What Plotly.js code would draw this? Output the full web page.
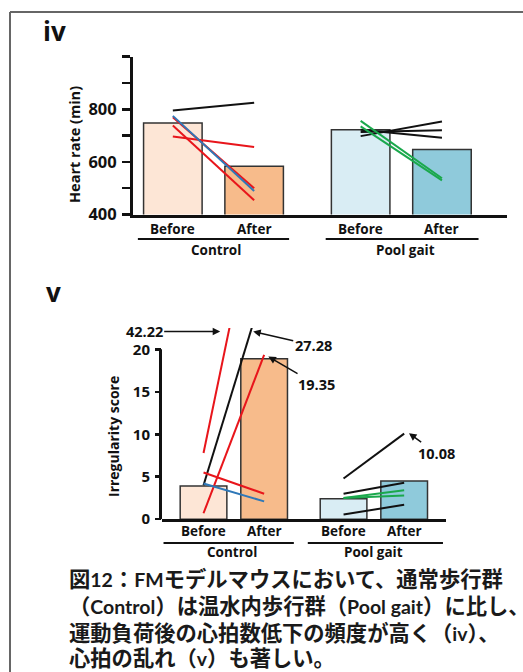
<!DOCTYPE html>
<html>
<head>
<meta charset="utf-8">
<script src="https://cdn.plot.ly/plotly-3.0.1.min.js"></script>
<style>html,body{margin:0;padding:0;background:#fff;}#chart{width:523px;height:672px;}</style>
</head>
<body>
<div id="chart"></div>
<script>
// ---------------- data ----------------
const conditions = ['Before', 'After'];
const groups = ['Control', 'Pool gait'];

// (iv) heart rate
const hrBarControl = [748, 583];
const hrBarPool = [722, 647];
const hrControlBefore = [795, 738, 697, 770, 775];
const hrControlAfter  = [825, 454, 657, 500, 489];
const hrPoolBefore = [698, 714, 722, 756, 735];
const hrPoolAfter  = [754, 720, 692, 538, 530];
const hrTicks = [400, 500, 600, 700, 800, 900, 1000];
const hrTickLabels = ['400', '', '600', '', '800', '', ''];

// (v) irregularity score
const irBarControl = [3.9, 18.9];
const irBarPool = [2.4, 4.5];
const irControlBefore = [7.8, 4.0, 0.7, 5.5, 4.2];
const irControlAfter  = [42.22, 27.28, 19.35, 3.0, 2.1];
const irPoolBefore = [4.8, 3.0, 2.5, 2.5, 0.55];
const irPoolAfter  = [10.08, 4.3, 3.4, 2.8, 1.7];
const irTicks = [0, 5, 10, 15, 20];

const captionLines = [
  '図12：FMモデルマウスにおいて、通常歩行群',
  '（Control）は温水内歩行群（Pool gait）に比し、',
  '運動負荷後の心拍数低下の頻度が高く（iv）、',
  '心拍の乱れ（v）も著しい。'
];

// ---------------- styles ----------------
const W = 523, H = 672;
const px = v => v / W;
const py = v => 1 - v / H;
const BLACK = '#111111', RED = '#e8151b', BLUE = '#2f78b8', GREEN = '#1aa84c';
const hrControlColors = [BLACK, RED, RED, RED, BLUE];
const hrPoolColors = [BLACK, BLACK, BLACK, GREEN, GREEN];
const irControlColors = [RED, BLACK, RED, RED, BLUE];
const irPoolColors = [BLACK, BLACK, GREEN, GREEN, BLACK];
const barColors = ['#fde6d6', '#f7bb8b', '#d9edf4', '#8fcadb'];
const groupStart = [0, 2.31];
const pos = [groupStart[0], groupStart[0] + 1, groupStart[1], groupStart[1] + 1];
const FONT = 'Open Sans, Arial, sans-serif';

const traces = [];
// bars
traces.push({
  type: 'bar', x: pos, y: hrBarControl.concat(hrBarPool), width: 0.72,
  marker: {color: barColors, line: {color: '#333', width: 1.5}},
  xaxis: 'x', yaxis: 'y', showlegend: false, hoverinfo: 'skip'
});
traces.push({
  type: 'bar', x: pos, y: irBarControl.concat(irBarPool), width: 0.77,
  marker: {color: barColors, line: {color: '#333', width: 1.5}},
  xaxis: 'x2', yaxis: 'y2', showlegend: false, hoverinfo: 'skip'
});
function addLines(before, after, colors, g, xa, ya) {
  for (let i = 0; i < before.length; i++) {
    traces.push({
      type: 'scatter', mode: 'lines',
      x: [pos[g * 2], pos[g * 2 + 1]], y: [before[i], after[i]],
      line: {color: colors[i], width: 2},
      xaxis: xa, yaxis: ya, showlegend: false, hoverinfo: 'skip'
    });
  }
}
addLines(hrControlBefore, hrControlAfter, hrControlColors, 0, 'x', 'y');
addLines(hrPoolBefore, hrPoolAfter, hrPoolColors, 1, 'x', 'y');
addLines(irControlBefore, irControlAfter, irControlColors, 0, 'x2', 'y2');
addLines(irPoolBefore, irPoolAfter, irPoolColors, 1, 'x2', 'y2');

// ---------------- annotations & shapes ----------------
const ann = [];
const shapes = [];
const bold = (size, color) => ({family: FONT, size: size, color: color || '#111', weight: 'bold'});

// frame
shapes.push({type: 'line', xref: 'paper', yref: 'paper', x0: px(10), x1: px(10), y0: py(12), y1: py(700), line: {color: '#666', width: 2}});
shapes.push({type: 'line', xref: 'paper', yref: 'paper', x0: px(10), x1: px(540), y0: py(12), y1: py(12), line: {color: '#666', width: 2}});

// panel labels
ann.push({text: 'iv', xref: 'paper', yref: 'paper', x: px(41), y: py(31), xanchor: 'left', yanchor: 'middle', showarrow: false, font: bold(26)});
ann.push({text: 'v', xref: 'paper', yref: 'paper', x: px(44), y: py(292), xanchor: 'left', yanchor: 'middle', showarrow: false, font: bold(26)});

// axis titles
ann.push({text: 'Heart rate (min)', xref: 'paper', yref: 'paper', x: px(74), y: py(145), xanchor: 'center', yanchor: 'middle', textangle: -90, showarrow: false, font: bold(14.5)});
ann.push({text: 'Irregularity score', xref: 'paper', yref: 'paper', x: px(113), y: py(437), xanchor: 'center', yanchor: 'middle', textangle: -90, showarrow: false, font: bold(14)});

// category labels and group underlines
function catLabels(xa, yCond, yLine, yGroup, ext) {
  for (let g = 0; g < 2; g++) {
    for (let c = 0; c < 2; c++) {
      ann.push({text: conditions[c], xref: xa, yref: 'paper', x: pos[g * 2 + c], y: py(yCond), xanchor: 'center', yanchor: 'middle', showarrow: false, font: bold(13.5)});
    }
    const center = groupStart[g] + 0.5;
    shapes.push({type: 'line', xref: xa, yref: 'paper', x0: center + ext[g][0], x1: center + ext[g][1], y0: py(yLine), y1: py(yLine), line: {color: '#111', width: 2.2}});
    ann.push({text: groups[g], xref: xa, yref: 'paper', x: center + ext[g][2], y: py(yGroup), xanchor: 'center', yanchor: 'middle', showarrow: false, font: bold(13.5)});
  }
}
catLabels('x', 229, 239, 250, [[-0.93, 0.93, 0.03], [-0.93, 0.95, 0.05]]);
catLabels('x2', 531, 543, 552, [[-1.16, 0.99, -0.03], [-1.09, 1.14, -0.01]]);

// y axis line for (v) only up to 20
shapes.push({type: 'line', xref: 'paper', yref: 'y2', x0: px(160.5), x1: px(160.5), y0: 0, y1: 20, line: {color: '#111', width: 3}});

// call-outs for values beyond the axis
function callout(val, hx, hy, ax, ay) {
  ann.push({text: val.toFixed(2), xref: 'x2', yref: 'y2', x: hx, y: hy, ax: ax, ay: ay,
    showarrow: true, arrowhead: 2, arrowsize: 1, arrowwidth: 1.5, arrowcolor: '#111', font: bold(14.5)});
}
callout(irControlAfter[0], 0.275, 22.1, -76, 0);
callout(irControlAfter[1], 0.82, 22.1, 60, 14);
callout(irControlAfter[2], 1.07, 19.15, 48, 28);
callout(irPoolAfter[0], 3.39, 10.13, 27, 20);

// caption: Latin runs in a narrower face, as in the reference
const latin = s => s.replace(/([A-Za-z0-9][A-Za-z0-9 ]*[A-Za-z0-9]|[A-Za-z0-9])/g,
  '<span style="font-family:Lato, sans-serif;font-size:19.5px">$1</span>');
const capY = [577, 604, 631, 656];
captionLines.forEach((t, i) => {
  ann.push({text: latin(t), xref: 'paper', yref: 'paper', x: px(67), y: py(capY[i]), xanchor: 'left', yanchor: 'middle', showarrow: false,
    font: {family: 'Noto Sans CJK JP, sans-serif', size: 21.3, color: '#1a1a1a', weight: 'bold'}});
});

const yTickStyle = {ticks: 'outside', ticklen: 8, tickwidth: 2.5, tickcolor: '#111', showgrid: false, zeroline: false};

const layout = {
  width: W, height: H, margin: {l: 0, r: 0, t: 0, b: 0},
  paper_bgcolor: '#fff', plot_bgcolor: 'rgba(0,0,0,0)', showlegend: false, bargap: 0,
  xaxis: {domain: [px(133), px(507)], range: [-0.49, 4.11], showticklabels: false, ticks: '', showgrid: false, zeroline: false,
    showline: true, linecolor: '#111', linewidth: 3, anchor: 'y', fixedrange: true},
  yaxis: Object.assign({domain: [py(214.5), py(56.7)], range: [400, 1000], tickvals: hrTicks, ticktext: hrTickLabels,
    showline: true, linecolor: '#111', linewidth: 3, anchor: 'x', tickfont: bold(16.5), ticklabelstandoff: 2, fixedrange: true}, yTickStyle),
  xaxis2: {domain: [px(162), px(446)], range: [-0.685, 4.0], showticklabels: false, ticks: '', showgrid: false, zeroline: false,
    showline: true, linecolor: '#111', linewidth: 3, anchor: 'y2', fixedrange: true},
  yaxis2: Object.assign({domain: [py(519.2), py(328.1)], range: [0, 22.5], tickvals: irTicks, ticktext: irTicks.map(String),
    showline: false, anchor: 'x2', tickfont: bold(15), ticklabelstandoff: 2, fixedrange: true}, yTickStyle, {ticklen: 6}),
  annotations: ann,
  shapes: shapes
};

Plotly.newPlot('chart', traces, layout, {staticPlot: true, displayModeBar: false});
</script>
</body>
</html>
